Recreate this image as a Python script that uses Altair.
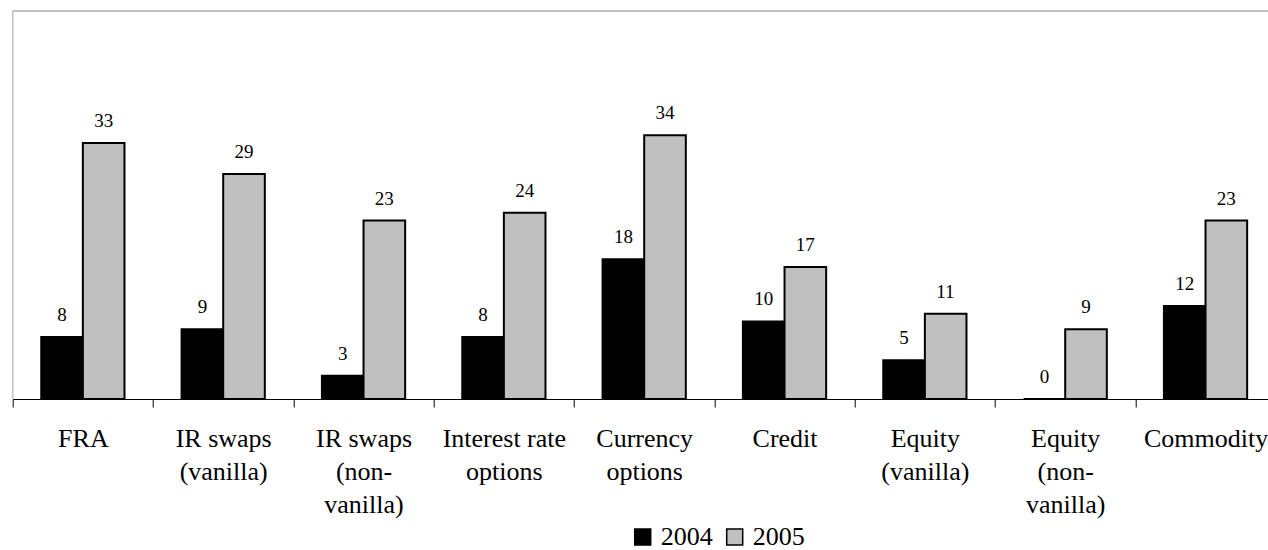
import altair as alt
import pandas as pd

# Category names, one entry per printed line of the axis label
label_lines = [
    ["FRA"],
    ["IR swaps", "(vanilla)"],
    ["IR swaps", "(non-", "vanilla)"],
    ["Interest rate", "options"],
    ["Currency", "options"],
    ["Credit"],
    ["Equity", "(vanilla)"],
    ["Equity", "(non-", "vanilla)"],
    ["Commodity"],
]
categories = ["|".join(lines) for lines in label_lines]
years = ["2004", "2005"]
values_2004 = [8, 9, 3, 8, 18, 10, 5, 0, 12]
values_2005 = [33, 29, 23, 24, 34, 17, 11, 9, 23]

rows = []
for cat, v4, v5 in zip(categories, values_2004, values_2005):
    rows.append({"category": cat, "year": "2004", "value": v4})
    rows.append({"category": cat, "year": "2005", "value": v5})
df = pd.DataFrame(rows)

FONT = "Liberation Serif"
W, H = 1255.3, 388
STEP_RANGE = 1263  # full band range; the last slot runs past the right edge
DIGIT_W = 9.5      # advance of one digit at 19px

x_enc = alt.X(
    "category:N",
    sort=categories,
    scale=alt.Scale(range=[0, STEP_RANGE], paddingInner=0, paddingOuter=0),
    axis=alt.Axis(
        title=None,
        labelExpr="split(datum.label, '|')",
        labelFont=FONT,
        labelFontSize=26,
        labelLineHeight=33,
        labelColor="black",
        labelAngle=0,
        labelBaseline="top",
        labelPadding=18.5,
        labelOverlap=False,
        labelBound=False,
        labelLimit=0,
        tickBand="extent",
        tickSize=8,
        tickColor="black",
        tickWidth=1,
        domainColor="black",
        domainWidth=1,
        grid=False,
    ),
)
y_enc = alt.Y("value:Q", scale=alt.Scale(domain=[0, 50], nice=False), axis=None)
# two bars per slot, centred, with wide gaps on either side
offset_enc = alt.XOffset(
    "year:N", scale=alt.Scale(domain=years, paddingInner=0, paddingOuter=0.686)
)

base = alt.Chart(df)

bars = base.mark_bar(stroke="black", strokeWidth=2).encode(
    x=x_enc,
    xOffset=offset_enc,
    y=y_enc,
    color=alt.Color(
        "year:N",
        scale=alt.Scale(domain=years, range=["#000000", "#C0C0C0"]),
        legend=alt.Legend(
            title=None,
            orient="none",
            direction="horizontal",
            legendX=617,
            legendY=513,
            symbolType="square",
            symbolSize=256,
            symbolStrokeColor="black",
            symbolStrokeWidth=1.5,
            symbolOpacity=1,
            labelFont=FONT,
            labelFontSize=26,
            labelColor="black",
            labelOffset=5,
            columnPadding=9,
        ),
    ),
)


def value_labels(condition, n_digits):
    # left-anchored text shifted back by half its width, so it sits centred on the bar
    return (
        base.transform_filter(condition)
        .mark_text(
            align="left",
            baseline="bottom",
            dx=-DIGIT_W * n_digits / 2,
            dy=-12,
            font=FONT,
            fontSize=19,
            color="black",
        )
        .encode(
            x=alt.X("category:N", sort=categories),
            xOffset=offset_enc,
            y=alt.Y("value:Q"),
            text=alt.Text("value:Q"),
        )
    )


labels_1 = value_labels("datum.value < 10", 1)
labels_2 = value_labels("datum.value >= 10", 2)

frame_src = alt.Chart(pd.DataFrame({"k": [0]}))
top_line = frame_src.mark_rule(color="#C0C0C0", strokeWidth=2).encode(
    x=alt.value(0), x2=alt.value(W), y=alt.value(0)
)
left_line = frame_src.mark_rule(color="#C0C0C0", strokeWidth=1.5).encode(
    x=alt.value(0), y=alt.value(0), y2=alt.value(H)
)

chart = (
    alt.layer(top_line, left_line, bars, labels_1, labels_2)
    .properties(
        width=W,
        height=H,
        autosize=alt.AutoSizeParams(type="none"),
        padding={"left": 12.7, "top": 11, "right": 0, "bottom": 151},
        background="white",
    )
    .configure_view(strokeWidth=0)
)

chart.save("out.html", embed_options={"renderer": "svg", "actions": False})
